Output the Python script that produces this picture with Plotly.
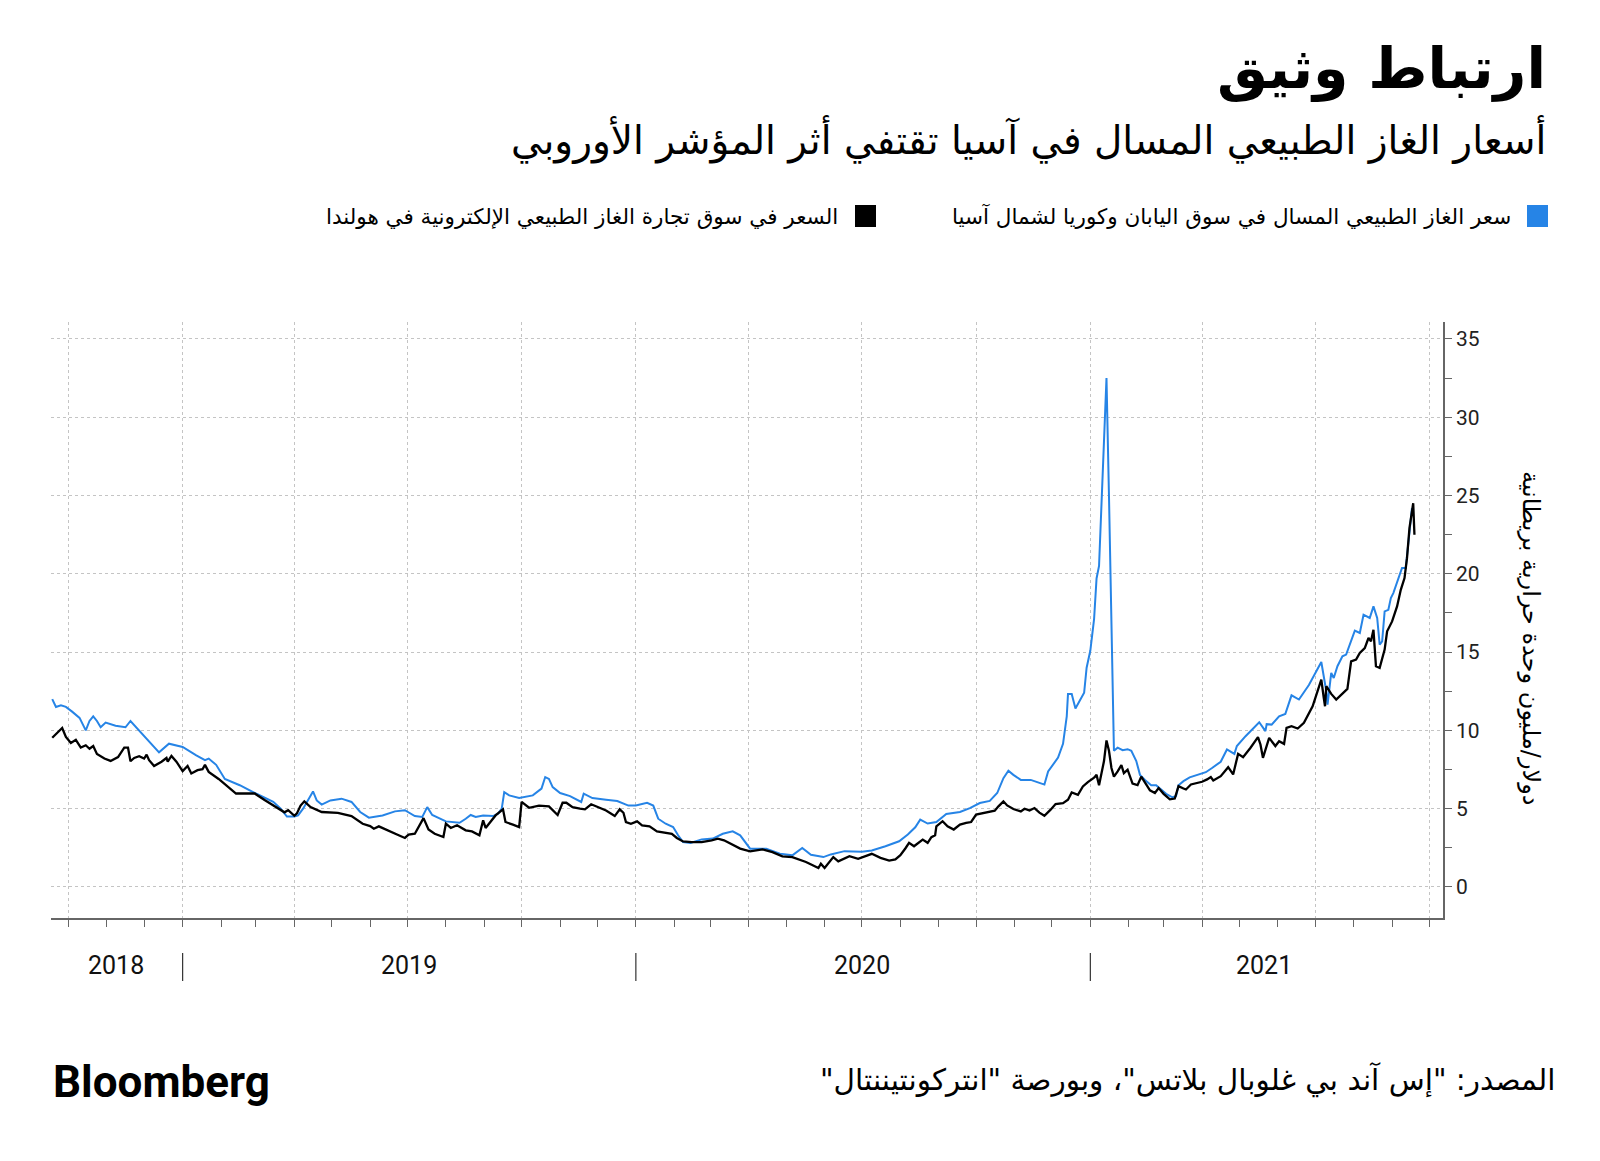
import plotly.graph_objects as go

# ---------------- DATA ----------------
blue_dates = [
    "2018-09-18", "2018-09-21", "2018-09-25", "2018-09-29", "2018-10-04", "2018-10-10", "2018-10-15",
    "2018-10-18", "2018-10-21", "2018-10-24", "2018-10-27", "2018-10-31", "2018-11-08", "2018-11-16",
    "2018-11-20", "2018-11-27", "2018-12-05", "2018-12-13", "2018-12-21",
    "2019-01-01", "2019-01-12", "2019-01-19", "2019-01-22", "2019-01-28", "2019-02-04", "2019-02-16",
    "2019-03-01", "2019-03-15", "2019-03-21", "2019-03-26", "2019-04-01", "2019-04-04", "2019-04-08",
    "2019-04-12", "2019-04-16", "2019-04-19", "2019-04-23", "2019-04-30", "2019-05-09", "2019-05-17",
    "2019-05-24", "2019-05-31", "2019-06-11", "2019-06-21", "2019-06-29", "2019-07-07", "2019-07-13",
    "2019-07-17", "2019-07-21", "2019-08-01", "2019-08-12", "2019-08-17", "2019-08-21", "2019-08-25",
    "2019-08-31", "2019-09-08", "2019-09-12", "2019-09-15", "2019-09-17", "2019-09-21", "2019-09-29",
    "2019-10-10", "2019-10-17", "2019-10-20", "2019-10-23", "2019-10-26", "2019-11-01", "2019-11-09",
    "2019-11-18", "2019-11-20", "2019-11-27", "2019-12-08", "2019-12-17", "2019-12-26",
    "2020-01-01", "2020-01-10", "2020-01-15", "2020-01-19", "2020-01-25", "2020-01-31", "2020-02-04",
    "2020-02-08", "2020-02-14", "2020-02-23", "2020-03-03", "2020-03-11", "2020-03-19", "2020-03-25",
    "2020-04-02", "2020-04-15", "2020-04-26", "2020-05-06", "2020-05-14", "2020-05-21", "2020-05-31",
    "2020-06-06", "2020-06-17", "2020-07-01", "2020-07-09", "2020-07-20", "2020-07-31", "2020-08-07",
    "2020-08-13", "2020-08-17", "2020-08-23", "2020-08-30", "2020-09-07", "2020-09-18", "2020-09-26",
    "2020-10-04", "2020-10-12", "2020-10-18", "2020-10-23", "2020-10-27", "2020-10-31", "2020-11-06",
    "2020-11-14", "2020-11-21", "2020-11-25", "2020-11-28", "2020-12-02", "2020-12-06", "2020-12-10",
    "2020-12-13", "2020-12-14", "2020-12-17", "2020-12-20", "2020-12-23", "2020-12-27", "2020-12-29",
    "2021-01-01", "2021-01-04", "2021-01-06", "2021-01-08", "2021-01-10", "2021-01-12", "2021-01-14",
    "2021-01-16", "2021-01-18", "2021-01-20", "2021-01-23", "2021-01-27", "2021-01-31", "2021-02-03",
    "2021-02-07", "2021-02-10", "2021-02-14", "2021-02-19", "2021-02-23", "2021-02-28", "2021-03-03",
    "2021-03-08", "2021-03-11", "2021-03-13", "2021-03-17", "2021-03-22", "2021-03-29", "2021-04-04",
    "2021-04-09", "2021-04-16", "2021-04-21", "2021-04-27", "2021-04-29", "2021-05-06", "2021-05-17",
    "2021-05-22", "2021-05-23", "2021-05-27", "2021-06-02", "2021-06-07", "2021-06-12", "2021-06-18",
    "2021-06-26", "2021-07-06", "2021-07-10", "2021-07-11", "2021-07-14", "2021-07-16", "2021-07-19",
    "2021-07-23", "2021-07-26", "2021-08-02", "2021-08-06", "2021-08-09", "2021-08-14", "2021-08-17",
    "2021-08-20", "2021-08-22", "2021-08-24", "2021-08-26", "2021-08-29", "2021-08-31", "2021-09-02",
    "2021-09-07", "2021-09-09", "2021-09-12", "2021-09-15", "2021-09-17",
]
blue_values = [
    12.0, 11.5, 11.6, 11.5, 11.2, 10.8, 10.0,
    10.6, 10.9, 10.6, 10.2, 10.5, 10.3, 10.2,
    10.6, 10.0, 9.26, 8.6, 9.15,
    8.94, 8.4, 8.1, 8.2, 7.8, 6.9, 6.5,
    5.97, 5.44, 5.0, 4.5, 4.5, 4.57, 5.0,
    5.53, 6.1, 5.53, 5.26, 5.53, 5.64, 5.43,
    4.79, 4.43, 4.57, 4.83, 4.9, 4.53, 4.47,
    5.1, 4.6, 4.19, 4.1, 4.36, 4.6, 4.47,
    4.57, 4.53, 4.68, 5.0, 6.06, 5.85, 5.68,
    5.85, 6.28, 7.02, 6.9, 6.38, 6.0, 5.8,
    5.43, 5.96, 5.68, 5.57, 5.49, 5.2,
    5.2, 5.38, 5.2, 4.36, 4.04, 3.83, 3.3,
    2.87, 2.81, 3.04, 3.09, 3.4, 3.55, 3.3,
    2.45, 2.45, 2.13, 2.02, 2.49, 2.06, 1.91,
    2.08, 2.29, 2.25, 2.33, 2.6, 2.92, 3.35,
    3.81, 4.3, 4.05, 4.15, 4.66, 4.79, 5.04,
    5.36, 5.5, 6.0, 6.95, 7.42, 7.16, 6.84,
    6.84, 6.65, 6.54, 7.38, 7.82, 8.26, 9.14,
    10.9, 12.33, 12.33, 11.4, 11.8, 12.4, 14.0,
    15.1, 17.1, 19.7, 20.5, 24.6, 29.4, 32.5,
    25.0, 15.5, 8.7, 8.9, 8.74, 8.8, 8.7,
    8.04, 7.16, 6.83, 6.5, 6.5, 6.17, 5.95,
    5.73, 5.8, 6.5, 6.76, 7.0, 7.19, 7.33,
    7.6, 8.0, 8.78, 8.5, 9.0, 9.63, 10.52,
    9.95, 10.4, 10.37, 10.9, 11.05, 12.24, 11.97,
    12.9, 14.37, 12.5, 11.65, 13.67, 13.35, 14.1,
    14.73, 14.84, 16.37, 16.22, 17.39, 17.18, 17.92,
    17.18, 15.48, 15.69, 17.6, 17.7, 18.45, 18.77,
    19.83, 20.37, 20.37, 22.9, 24.2,
]

black_dates = [
    "2018-09-18", "2018-09-22", "2018-09-26", "2018-09-29", "2018-10-03", "2018-10-07", "2018-10-11",
    "2018-10-15", "2018-10-18", "2018-10-21", "2018-10-24", "2018-10-30", "2018-11-04", "2018-11-10",
    "2018-11-15", "2018-11-18", "2018-11-20", "2018-11-23", "2018-11-27", "2018-12-01", "2018-12-03",
    "2018-12-05", "2018-12-09", "2018-12-15", "2018-12-19", "2018-12-20", "2018-12-23", "2018-12-27",
    "2019-01-01", "2019-01-05", "2019-01-08", "2019-01-13", "2019-01-17", "2019-01-19", "2019-01-22",
    "2019-01-30", "2019-02-08", "2019-02-13", "2019-02-20", "2019-02-28", "2019-03-08", "2019-03-19",
    "2019-03-24", "2019-03-27", "2019-04-01", "2019-04-03", "2019-04-06", "2019-04-09", "2019-04-14",
    "2019-04-23", "2019-05-06", "2019-05-17", "2019-05-26", "2019-06-01", "2019-06-04", "2019-06-08",
    "2019-06-12", "2019-06-17", "2019-06-24", "2019-06-29", "2019-07-02", "2019-07-07", "2019-07-11",
    "2019-07-14", "2019-07-18", "2019-07-23", "2019-07-30", "2019-08-01", "2019-08-05", "2019-08-10",
    "2019-08-17", "2019-08-22", "2019-08-28", "2019-08-31", "2019-09-02", "2019-09-06", "2019-09-10",
    "2019-09-16", "2019-09-18", "2019-09-24", "2019-09-29", "2019-10-01", "2019-10-07", "2019-10-15",
    "2019-10-23", "2019-10-30", "2019-11-03", "2019-11-06", "2019-11-11", "2019-11-17", "2019-11-21",
    "2019-11-26", "2019-12-02", "2019-12-08", "2019-12-15", "2019-12-19", "2019-12-22", "2019-12-24",
    "2019-12-28",
    "2020-01-02", "2020-01-06", "2020-01-12", "2020-01-18", "2020-01-25", "2020-01-30", "2020-02-03",
    "2020-02-08", "2020-02-15", "2020-02-23", "2020-03-02", "2020-03-07", "2020-03-12", "2020-03-19",
    "2020-03-25", "2020-04-02", "2020-04-12", "2020-04-20", "2020-04-28", "2020-05-06", "2020-05-17",
    "2020-05-27", "2020-05-29", "2020-06-01", "2020-06-08", "2020-06-12", "2020-06-16", "2020-06-21",
    "2020-06-28", "2020-07-04", "2020-07-09", "2020-07-16", "2020-07-23", "2020-07-28", "2020-08-01",
    "2020-08-05", "2020-08-08", "2020-08-12", "2020-08-16", "2020-08-19", "2020-08-23", "2020-08-26",
    "2020-08-29", "2020-08-30", "2020-09-04", "2020-09-08", "2020-09-13", "2020-09-18", "2020-09-23",
    "2020-09-27", "2020-10-01", "2020-10-07", "2020-10-12", "2020-10-16", "2020-10-19", "2020-10-23",
    "2020-10-26", "2020-10-31", "2020-11-06", "2020-11-09", "2020-11-13", "2020-11-17", "2020-11-21",
    "2020-11-25", "2020-11-30", "2020-12-04", "2020-12-10", "2020-12-14", "2020-12-17", "2020-12-22",
    "2020-12-26", "2020-12-30",
    "2021-01-04", "2021-01-06", "2021-01-08", "2021-01-12", "2021-01-14", "2021-01-16", "2021-01-18",
    "2021-01-20", "2021-01-23", "2021-01-26", "2021-01-28", "2021-01-31", "2021-02-04", "2021-02-08",
    "2021-02-11", "2021-02-14", "2021-02-18", "2021-02-22", "2021-02-25", "2021-03-01", "2021-03-06",
    "2021-03-10", "2021-03-13", "2021-03-17", "2021-03-19", "2021-03-23", "2021-04-01", "2021-04-05",
    "2021-04-08", "2021-04-10", "2021-04-16", "2021-04-22", "2021-04-26", "2021-04-30", "2021-05-04",
    "2021-05-10", "2021-05-16", "2021-05-18", "2021-05-20", "2021-05-25", "2021-05-30", "2021-06-02",
    "2021-06-06", "2021-06-08", "2021-06-12", "2021-06-17", "2021-06-22", "2021-06-29", "2021-07-06",
    "2021-07-08", "2021-07-09", "2021-07-10", "2021-07-14", "2021-07-18", "2021-07-22", "2021-07-27",
    "2021-07-30", "2021-08-03", "2021-08-06", "2021-08-10", "2021-08-13", "2021-08-15", "2021-08-17",
    "2021-08-19", "2021-08-22", "2021-08-26", "2021-08-28", "2021-09-01", "2021-09-05", "2021-09-08",
    "2021-09-11", "2021-09-13", "2021-09-15", "2021-09-17", "2021-09-18", "2021-09-19",
]
black_values = [
    9.53, 9.85, 10.15, 9.58, 9.2, 9.4, 8.9,
    9.05, 8.83, 9.0, 8.5, 8.2, 8.05, 8.3,
    8.9, 8.9, 8.03, 8.24, 8.35, 8.2, 8.45,
    8.1, 7.73, 8.0, 8.24, 8.0, 8.37, 8.0,
    7.4, 7.73, 7.25, 7.46, 7.52, 7.8, 7.35,
    6.9, 6.3, 5.97, 5.97, 5.97, 5.55, 5.0,
    4.77, 4.9, 4.55, 4.7, 5.2, 5.47, 5.1,
    4.79, 4.74, 4.53, 4.04, 3.89, 3.72, 3.87,
    3.72, 3.51, 3.3, 3.13, 3.34, 3.4, 3.98,
    4.4, 3.68, 3.4, 3.19, 4.04, 3.77, 3.94,
    3.62, 3.55, 3.3, 4.26, 3.77, 4.15, 4.57,
    4.96, 4.15, 3.98, 3.83, 5.43, 5.06, 5.2,
    5.15, 4.6, 5.38, 5.38, 5.1, 5.0, 4.96,
    5.28, 5.1, 4.89, 4.53, 4.96, 4.74, 4.15,
    4.04,
    4.19, 3.94, 3.87, 3.55, 3.45, 3.4, 3.13,
    2.91, 2.87, 2.87, 2.98, 3.09, 2.98, 2.7,
    2.45, 2.28, 2.4, 2.23, 1.96, 1.91, 1.6,
    1.21, 1.49, 1.21, 1.91, 1.64, 1.8, 1.97,
    1.8, 1.97, 2.12, 1.86, 1.69, 1.76, 2.03,
    2.46, 2.82, 2.6, 2.82, 3.03, 2.82, 3.18,
    3.3, 3.88, 4.2, 3.88, 3.67, 3.98, 4.09,
    4.15, 4.62, 4.72, 4.83, 4.87, 5.15, 5.47,
    5.21, 4.98, 4.83, 5.0, 4.89, 5.04, 4.75,
    4.55, 4.94, 5.3, 5.35, 5.57, 6.04, 5.89,
    6.42, 6.7,
    6.98, 7.16, 6.5, 8.04, 9.36, 8.7, 7.6,
    7.05, 7.38, 7.78, 7.27, 7.49, 6.6, 6.5,
    7.05, 6.7, 6.17, 6.0, 6.32, 5.95, 5.6,
    5.65, 6.44, 6.29, 6.23, 6.55, 6.72, 6.87,
    7.02, 6.8, 7.08, 7.65, 7.19, 8.5, 8.29,
    8.89, 9.57, 9.1, 8.25, 9.52, 9.0, 9.31,
    9.14, 10.16, 10.27, 10.12, 10.48, 11.54, 13.24,
    12.07, 11.54, 12.82, 12.33, 11.97, 12.29, 12.65,
    14.41, 14.52, 14.94, 15.26, 15.9, 15.69, 16.43,
    14.1, 13.99, 15.16, 16.33, 16.96, 17.92, 18.98,
    19.73, 21.0, 22.92, 24.19, 24.51, 22.49,
]

y_ticks = [0, 5, 10, 15, 20, 25, 30, 35]
y_minor = [2.5, 7.5, 12.5, 17.5, 22.5, 27.5, 32.5]
quarter_ticks = ["2018-10-01", "2019-01-01", "2019-04-01", "2019-07-01", "2019-10-01",
                 "2020-01-01", "2020-04-01", "2020-07-01", "2020-10-01", "2021-01-01",
                 "2021-04-01", "2021-07-01", "2021-10-01"]
month_ticks = ["%d-%02d-01" % (y, m) for y in (2018, 2019, 2020, 2021) for m in range(1, 13)
               if "2018-10-01" <= "%d-%02d-01" % (y, m) <= "2021-10-01"]
year_labels = ["2018", "2019", "2020", "2021"]
year_label_pos = ["2018-11-08", "2019-07-02", "2020-07-01", "2021-05-21"]
year_breaks = ["2019-01-01", "2020-01-01", "2021-01-01"]

RLM = "\u200f"
title = "ارتباط وثيق"
subtitle = "أسعار الغاز الطبيعي المسال في آسيا تقتفي أثر المؤشر الأوروبي"
legend_blue = "سعر الغاز الطبيعي المسال في سوق اليابان وكوريا لشمال آسيا"
legend_black = "السعر في سوق تجارة الغاز الطبيعي الإلكترونية في هولندا"
y_title = "دولار/مليون وحدة حرارية بريطانية"
source = RLM + "المصدر: \"إس آند بي غلوبال بلاتس\"، وبورصة \"انتركونتيننتال\"" + RLM

BLUE = "#2684e6"
AR_FONT = "DejaVu Sans"

# ---------------- LAYOUT HELPERS ----------------
# reference-pixel positions; the page adds an ~8px offset, so subtract it
OFF = 8
L, R, T, B = 51 - OFF, 1443 - OFF, 322 - OFF, 918 - OFF


def px(x):
    return (x - OFF - L) / (R - L)


def py(y):
    return (B - (y - OFF)) / (B - T)


fig = go.Figure()
fig.add_trace(go.Scatter(x=blue_dates, y=blue_values, mode="lines",
                         line=dict(color=BLUE, width=2), showlegend=False))
fig.add_trace(go.Scatter(x=black_dates, y=black_values, mode="lines",
                         line=dict(color="#000000", width=2.3), showlegend=False))

fig.update_layout(
    width=1600, height=1161,
    margin=dict(l=L, r=1600 - R, t=T, b=1161 - B),
    paper_bgcolor="white", plot_bgcolor="white",
    showlegend=False,
)

fig.update_xaxes(
    type="date", range=["2018-09-17", "2021-10-12"],
    tickvals=quarter_ticks, showticklabels=False,
    ticks="outside", ticklen=7, tickcolor="#666", tickwidth=1,
    showgrid=True, gridcolor="#c4c4c4", griddash="dot", gridwidth=1,
    showline=True, linecolor="#666", linewidth=1.5,
    zeroline=False,
    minor=dict(tickvals=month_ticks, ticks="outside", ticklen=7, tickcolor="#666",
               tickwidth=1, showgrid=False),
)
fig.update_yaxes(
    side="right", range=[-1.98, 36.08],
    tickvals=y_ticks, ticktext=[str(v) for v in y_ticks],
    ticks="outside", ticklen=7, tickcolor="#666", tickwidth=1,
    tickfont=dict(family="Roboto", size=21, color="#222"),
    showgrid=True, gridcolor="#c4c4c4", griddash="dot", gridwidth=1,
    showline=True, linecolor="#666", linewidth=1.5,
    zeroline=False,
    minor=dict(tickvals=y_minor, ticks="outside", ticklen=7, tickcolor="#666",
               tickwidth=1, showgrid=False),
)

ann = []
for lab, pos in zip(year_labels, year_label_pos):
    ann.append(dict(x=pos, xref="x", y=py(966), yref="paper", text=lab, showarrow=False,
                    xanchor="center", yanchor="middle",
                    font=dict(family="Roboto", size=25, color="#111")))
shapes = []
for yb in year_breaks:
    shapes.append(dict(type="line", xref="x", yref="paper", x0=yb, x1=yb,
                       y0=py(953), y1=py(981), line=dict(color="#333", width=1.2)))

# Title & subtitle
ann.append(dict(x=px(1548), y=py(68), xref="paper", yref="paper", text="<b>" + title + "</b>",
                showarrow=False, xanchor="right", yanchor="middle",
                font=dict(family=AR_FONT, size=57, color="#000")))
ann.append(dict(x=px(1548), y=py(139), xref="paper", yref="paper", text=subtitle,
                showarrow=False, xanchor="right", yanchor="middle",
                font=dict(family=AR_FONT, size=39, color="#000")))

# Legend
shapes.append(dict(type="rect", xref="paper", yref="paper", x0=px(1527), x1=px(1548),
                   y0=py(227), y1=py(205), fillcolor=BLUE, line=dict(width=0)))
ann.append(dict(x=px(1513), y=py(216), xref="paper", yref="paper", text=legend_blue,
                showarrow=False, xanchor="right", yanchor="middle",
                font=dict(family=AR_FONT, size=21.5, color="#000")))
shapes.append(dict(type="rect", xref="paper", yref="paper", x0=px(855), x1=px(876),
                   y0=py(227), y1=py(205), fillcolor="#000", line=dict(width=0)))
ann.append(dict(x=px(840), y=py(216), xref="paper", yref="paper", text=legend_black,
                showarrow=False, xanchor="right", yanchor="middle",
                font=dict(family=AR_FONT, size=21.5, color="#000")))

# Y axis title
ann.append(dict(x=px(1531), y=py(638), xref="paper", yref="paper", text=y_title,
                showarrow=False, textangle=90, xanchor="center", yanchor="middle",
                font=dict(family=AR_FONT, size=24, color="#000")))

# Footer
ann.append(dict(x=px(1557), y=py(1080), xref="paper", yref="paper", text=source,
                showarrow=False, xanchor="right", yanchor="middle",
                font=dict(family=AR_FONT, size=29.5, color="#000")))
ann.append(dict(x=px(51), y=py(1082), xref="paper", yref="paper", text="<b>Bloomberg</b>",
                showarrow=False, xanchor="left", yanchor="middle",
                font=dict(family="Roboto", size=44, color="#000")))

fig.update_layout(annotations=ann, shapes=shapes)
fig.write_html("out.html")
